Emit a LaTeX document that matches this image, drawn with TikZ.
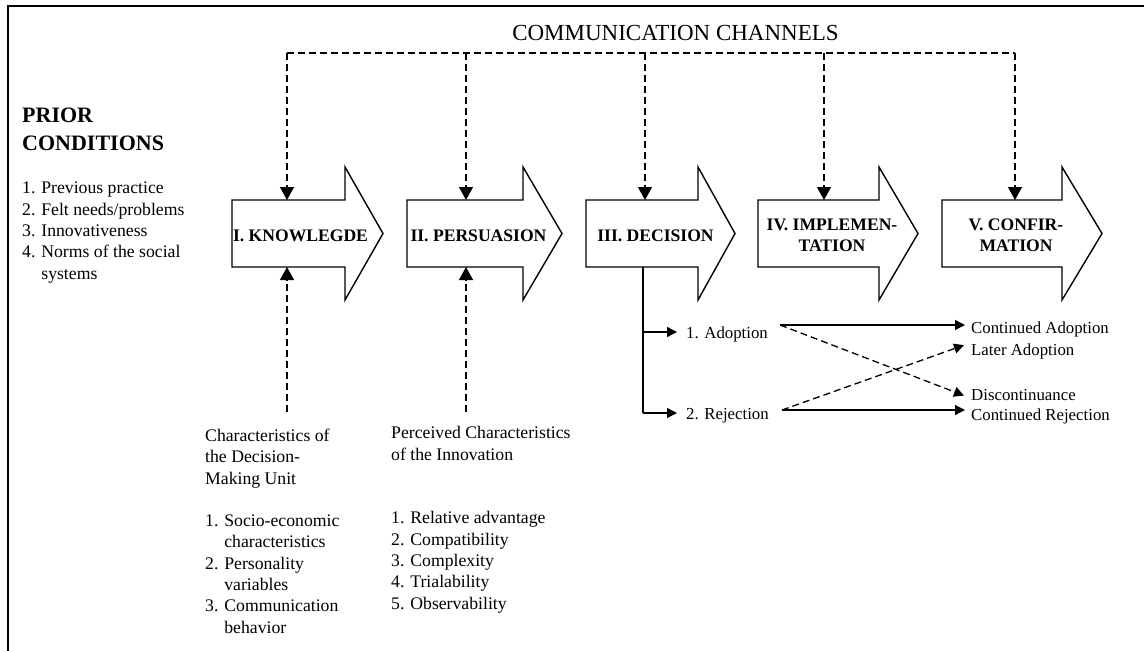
\documentclass[tikz,border=0pt]{standalone}
\usepackage{fontspec}
\setmainfont{Liberation Serif}
\usetikzlibrary{arrows.meta}
\newcommand\stagearrow[3]{\draw[stagebox] (#1,200) -- (#2,200) -- (#2,167) -- (#3,233.5) -- (#2,300) -- (#2,267) -- (#1,267) -- cycle;}
\begin{document}
\begin{tikzpicture}[x=1pt,y=-1pt,
  frameline/.style={line width=1.6pt},
  stagebox/.style={draw, line width=1.4pt, fill=white, line join=miter},
  stagelabel/.style={font=\fontsize{17.6}{21}\selectfont\bfseries, align=center, inner sep=0, anchor=center},
  body/.style={font=\fontsize{17.7}{21.3}\selectfont, align=left, inner sep=0, anchor=base west},
  outcome/.style={font=\fontsize{16.8}{20}\selectfont, inner sep=0, anchor=base west},
  dashline/.style={line width=1.3pt, dash pattern=on 7pt off 4pt},
  solidline/.style={line width=1.3pt},
  bigtip/.style={-{Triangle[length=13pt,width=14pt]}},
  smalltip/.style={-{Triangle[length=10pt,width=10pt]}}]
\useasboundingbox (0,0) rectangle (1144,651);
\draw[frameline] (8,651) -- (8,6) -- (1144,6);

% stage arrows
\stagearrow{232}{345}{383}
\stagearrow{407}{523}{562}
\stagearrow{586}{698}{735}
\stagearrow{758}{879}{918}
\stagearrow{942}{1062}{1102}
\node[stagelabel] (know) at (300.5,235.5) {I. KNOWLEGDE};
\node[stagelabel] (pers) at (478.5,235.5) {II. PERSUASION};
\node[stagelabel] (deci) at (655.5,235.5) {III. DECISION};
\node[stagelabel] (impl) at (832,235.5) {IV. IMPLEMEN-\\TATION};
\node[stagelabel] (conf) at (1016,235.5) {V. CONFIR-\\MATION};

% communication channels
\node[font=\fontsize{23}{25}\selectfont, inner sep=0, anchor=base] (cc) at (675.5,40) {COMMUNICATION CHANNELS};
\coordinate (c1) at (287,53);
\coordinate (c2) at (466,53);
\coordinate (c3) at (645,53);
\coordinate (c4) at (824,53);
\coordinate (c5) at (1015,53);
\coordinate (kt) at (287,200);
\coordinate (pt) at (466,200);
\coordinate (dt) at (645,200);
\coordinate (it) at (824,200);
\coordinate (ct) at (1015,200);
\draw[dashline] (c1) -- (c5);
\draw[dashline,bigtip] (c1) -- (kt);
\draw[dashline,bigtip] (c2) -- (pt);
\draw[dashline,bigtip] (c3) -- (dt);
\draw[dashline,bigtip] (c4) -- (it);
\draw[dashline,bigtip] (c5) -- (ct);

% prior conditions (base anchor = baseline of last line)
\node[font=\fontsize{22}{28}\selectfont\bfseries, align=left, inner sep=0, anchor=base west] (prior) at (22,150) {PRIOR\\CONDITIONS};
\node[body] (priorlist) at (22,279) {1. Previous practice\\2. Felt needs/problems\\3. Innovativeness\\4. Norms of the social\\\hphantom{4. }systems};

% bottom characteristics
\coordinate (kb) at (287,267);
\coordinate (pb) at (466,267);
\coordinate (kf) at (287,412);
\coordinate (pf) at (466,412);
\draw[dashline,bigtip] (kf) -- (kb);
\draw[dashline,bigtip] (pf) -- (pb);
\node[body] (dmu) at (205,484) {Characteristics of\\the Decision-\\Making Unit};
\node[body] (dmulist) at (205,633) {1. Socio-economic\\\hphantom{1. }characteristics\\2. Personality\\\hphantom{2. }variables\\3. Communication\\\hphantom{3. }behavior};
\node[body] (inno) at (391,460) {Perceived Characteristics\\of the Innovation};
\node[body] (innolist) at (391,609) {1. Relative advantage\\2. Compatibility\\3. Complexity\\4. Trialability\\5. Observability};

% decision outcomes
\coordinate (db) at (643,267);
\node[outcome] (adopt) at (686,338) {1. Adoption};
\node[outcome] (rej) at (686,419) {2. Rejection};
\coordinate (dv1) at (643,332);
\coordinate (dv2) at (643,413);
\coordinate (adoptin) at (677,332);
\coordinate (rejin) at (677,413);
\draw[solidline] (db) -- (dv2);
\draw[solidline,smalltip] (dv1) -- (adoptin);
\draw[solidline,smalltip] (dv2) -- (rejin);

\node[outcome] (contad) at (971,333) {Continued Adoption};
\node[outcome] (latad) at (971,355) {Later Adoption};
\node[outcome] (disc) at (971,400) {Discontinuance};
\node[outcome] (contrej) at (971,420) {Continued Rejection};
\coordinate (aout) at (780,325);
\coordinate (rout) at (782,410);
\draw[solidline,smalltip] (aout) -- ([xshift=-6pt]contad.west |- aout);
\draw[dashline,smalltip] (aout) -- ([xshift=-7pt,yshift=-1pt]disc.west);
\draw[dashline,smalltip] (rout) -- ([xshift=-7pt,yshift=-2pt]latad.north west);
\draw[solidline,smalltip] (rout) -- ([xshift=-6pt]contrej.west |- rout);
\end{tikzpicture}
\end{document}
